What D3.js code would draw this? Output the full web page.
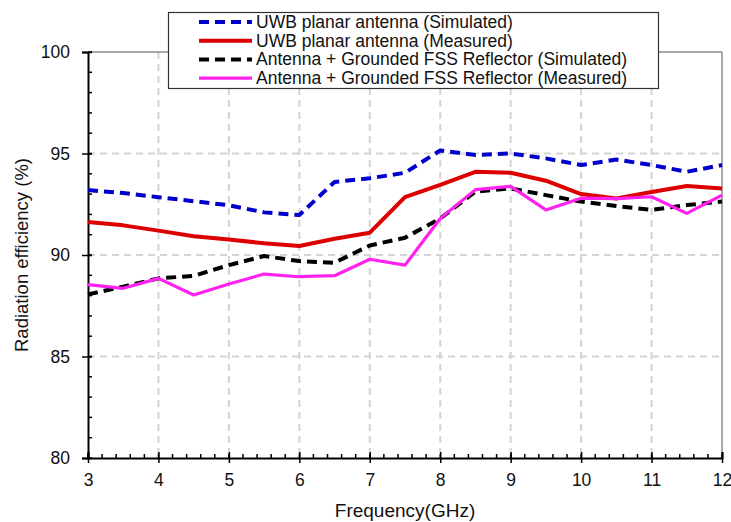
<!DOCTYPE html>
<html>
<head>
<meta charset="utf-8">
<script src="https://cdn.jsdelivr.net/npm/d3@7"></script>
<style>
  body { margin: 0; background: #fff; }
  svg { font-family: "Liberation Sans", Arial, sans-serif; }
</style>
</head>
<body>
<div id="chart"></div>
<script>
// frequency points (GHz)
var freq = [3, 3.5, 4, 4.5, 5, 5.5, 6, 6.5, 7, 7.5, 8, 8.5, 9, 9.5, 10, 10.5, 11, 11.5, 12]

var uwbSim  = [93.2, 93.05, 92.85, 92.65, 92.45, 92.1, 91.97, 93.6, 93.78, 94.05, 95.15, 94.93, 95.0, 94.76, 94.43, 94.7, 94.43, 94.1, 94.43]
var uwbMeas = [91.62, 91.46, 91.2, 90.92, 90.76, 90.58, 90.44, 90.8, 91.1, 92.85, 93.45, 94.1, 94.05, 93.66, 93.0, 92.78, 93.1, 93.4, 93.28]
var fssSim  = [88.06, 88.44, 88.85, 88.97, 89.5, 89.95, 89.7, 89.62, 90.47, 90.85, 91.8, 93.12, 93.28, 92.95, 92.63, 92.41, 92.22, 92.46, 92.63]
var fssMeas = [88.54, 88.36, 88.85, 88.03, 88.57, 89.06, 88.93, 88.98, 89.79, 89.5, 91.8, 93.22, 93.38, 92.22, 92.8, 92.78, 92.87, 92.05, 92.95]

var xTicks = [3, 4, 5, 6, 7, 8, 9, 10, 11, 12]
var yTicks = [80, 85, 90, 95, 100]

var seriesNames = [
  "UWB planar antenna (Simulated)",
  "UWB planar antenna (Measured)",
  "Antenna + Grounded FSS Reflector (Simulated)",
  "Antenna + Grounded FSS Reflector (Measured)"
]

var series = [
  {name: seriesNames[0], values: uwbSim,  color: "#0000cc", width: 4, dash: "10,6"},
  {name: seriesNames[1], values: uwbMeas, color: "#dd0000", width: 4, dash: null},
  {name: seriesNames[2], values: fssSim,  color: "#000000", width: 4, dash: "10,6"},
  {name: seriesNames[3], values: fssMeas, color: "#ff22ee", width: 3.2, dash: null}
]

var W = 731, H = 522
// plot box (top/left are window globals, so use other names)
var pL = 88, pR = 722, pT = 52, pB = 458

var svg = d3.select("#chart").append("svg")
  .attr("width", W)
  .attr("height", H)

var x = d3.scaleLinear().domain([3, 12]).range([pL, pR])
var y = d3.scaleLinear().domain([80, 100]).range([pB, pT])

// grid
svg.append("g").selectAll("line")
  .data(xTicks.slice(1, -1))
  .enter().append("line")
    .attr("x1", function(d) { return x(d) }).attr("x2", function(d) { return x(d) })
    .attr("y1", pT).attr("y2", pB)
    .attr("stroke", "#d4d4d4").attr("stroke-width", 2).attr("stroke-dasharray", "7,5")
svg.append("g").selectAll("line")
  .data(yTicks.slice(1, -1))
  .enter().append("line")
    .attr("y1", function(d) { return y(d) }).attr("y2", function(d) { return y(d) })
    .attr("x1", pL).attr("x2", pR)
    .attr("stroke", "#d4d4d4").attr("stroke-width", 2).attr("stroke-dasharray", "7,5")

// frame top / right
svg.append("line").attr("x1", pL).attr("x2", pR).attr("y1", pT).attr("y2", pT)
  .attr("stroke", "#555").attr("stroke-width", 1)
svg.append("line").attr("x1", pR).attr("x2", pR).attr("y1", pT).attr("y2", pB)
  .attr("stroke", "#555").attr("stroke-width", 1)

// minor ticks
var xMinor = d3.range(3, 12.001, 0.2)
var yMinor = d3.range(80, 100.001, 1)
svg.append("g").selectAll("line")
  .data(xMinor).enter().append("line")
    .attr("x1", function(d) { return x(d) }).attr("x2", function(d) { return x(d) })
    .attr("y1", pB).attr("y2", pB - 4)
    .attr("stroke", "#000").attr("stroke-width", 1.5)
svg.append("g").selectAll("line")
  .data(yMinor).enter().append("line")
    .attr("y1", function(d) { return y(d) }).attr("y2", function(d) { return y(d) })
    .attr("x1", pL).attr("x2", pL + 4)
    .attr("stroke", "#000").attr("stroke-width", 1.5)

// axes
var xAxis = svg.append("g")
  .attr("transform", "translate(0," + pB + ")")
  .call(d3.axisBottom(x).tickValues(xTicks).tickSize(-6).tickPadding(16).tickFormat(d3.format("d")))
xAxis.select(".domain").attr("stroke-width", 2)
xAxis.selectAll(".tick line").attr("stroke-width", 1.5).attr("y1", 5)
xAxis.selectAll("text").attr("font-size", 17.5).attr("fill", "#111")
  .style("font-family", '"Liberation Sans", Arial, sans-serif')

var yAxis = svg.append("g")
  .attr("transform", "translate(" + pL + ",0)")
  .call(d3.axisLeft(y).tickValues(yTicks).tickSize(6).tickPadding(12))
yAxis.select(".domain").attr("stroke-width", 2)
yAxis.selectAll(".tick line").attr("stroke-width", 1.5).attr("x2", 4).attr("x1", -6)
yAxis.selectAll("text").attr("font-size", 17.5).attr("fill", "#111")
  .style("font-family", '"Liberation Sans", Arial, sans-serif')

// axis titles
svg.append("text")
  .attr("x", (pL + pR) / 2).attr("y", 517)
  .attr("text-anchor", "middle").attr("font-size", 19).attr("fill", "#111")
  .text("Frequency(GHz)")
svg.append("text")
  .attr("transform", "translate(28," + ((pT + pB) / 2) + ")rotate(-90)")
  .attr("text-anchor", "middle").attr("font-size", 18.5).attr("fill", "#111")
  .text("Radiation efficiency (%)")

// lines
var line = d3.line()
  .x(function(d, i) { return x(freq[i]) })
  .y(function(d) { return y(d) })

series.forEach(function(s) {
  svg.append("path")
    .datum(s.values)
    .attr("fill", "none")
    .attr("stroke", s.color)
    .attr("stroke-width", s.width)
    .attr("stroke-dasharray", s.dash)
    .attr("stroke-linejoin", "round")
    .attr("d", line)
})

// legend
var lg = svg.append("g")
lg.append("rect")
  .attr("x", 168.5).attr("y", 12.5).attr("width", 490).attr("height", 76)
  .attr("fill", "#fff").attr("stroke", "#333").attr("stroke-width", 1.2)
series.forEach(function(s, i) {
  var yy = 22 + i * 18.7
  lg.append("line")
    .attr("x1", 199).attr("x2", 252).attr("y1", yy).attr("y2", yy)
    .attr("stroke", s.color).attr("stroke-width", s.width)
    .attr("stroke-dasharray", s.dash)
  lg.append("text")
    .attr("x", 256).attr("y", yy + 6)
    .attr("font-size", 17.5).attr("fill", "#111")
    .text(s.name)
})
</script>
</body>
</html>
